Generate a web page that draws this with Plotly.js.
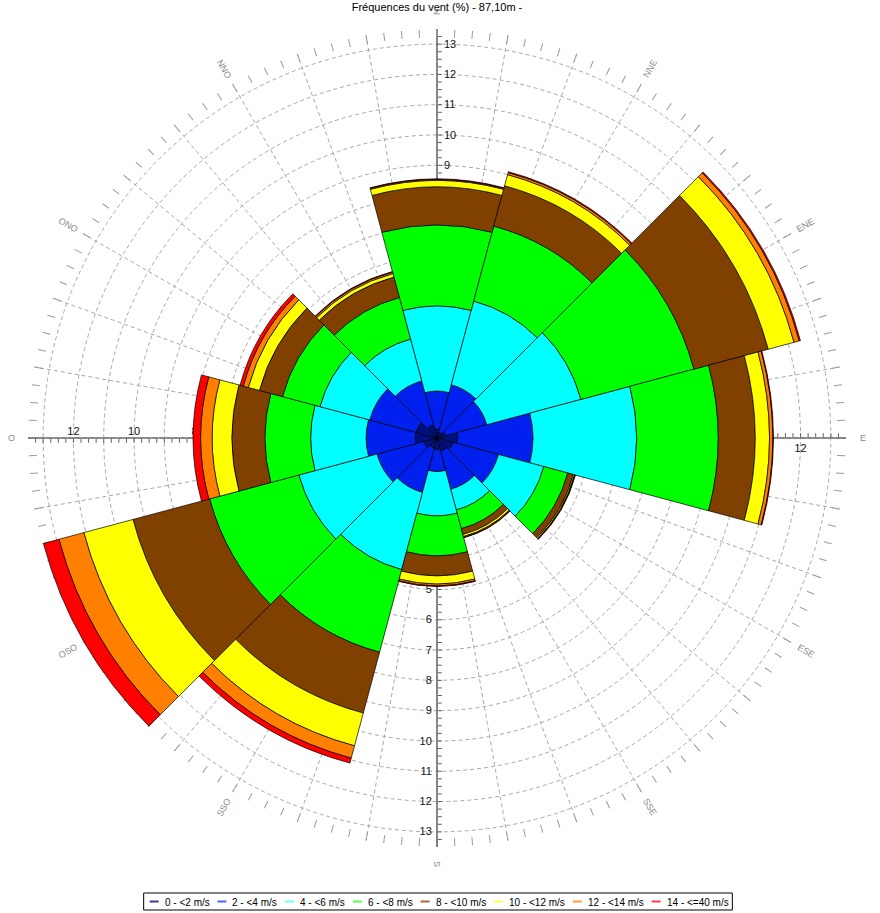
<!DOCTYPE html>
<html>
<head>
<meta charset="utf-8">
<script src="https://cdn.plot.ly/plotly-3.0.1.min.js"></script>
<style>
html,body{margin:0;padding:0;background:#ffffff;}
#chart{width:880px;height:913px;}
</style>
</head>
<body>
<div id="chart"></div>
<script>
// ---- data (frequencies in %, per direction sector) ----
const directions = ['N','NNE','ENE','E','ESE','SSE','S','SSO','OSO','O','ONO','NNO'];
const directionAngles = [0,30,60,90,120,150,180,210,240,270,300,330];
const speedClasses = ['0 - <2 m/s','2 - <4 m/s','4 - <6 m/s','6 - <8 m/s','8 - <10 m/s','10 - <12 m/s','12 - <14 m/s','14 - <=40 m/s'];
const speedColors = ['#001080','#0020F0','#00FFFF','#00FF00','#804000','#FFFF00','#FF8000','#FF0000'];
const legendColors = ['#3c3c96','#4a64f4','#66ffff','#55ff55','#a06a3a','#ffff55','#ffa040','#ff4040'];

const freq_0_2   = [0.30,0.20,0.30,0.68,0.55,0.45,0.38,0.35,0.45,0.72,0.72,0.45];
const freq_2_4   = [1.25,1.62,1.40,2.49,1.55,1.30,0.73,1.51,1.60,1.62,1.58,1.50];
const freq_4_6   = [2.81,2.86,3.22,3.42,1.55,0.71,1.46,2.64,2.67,1.83,1.70,1.43];
const freq_6_8   = [2.67,2.56,3.86,2.69,0.82,0.64,1.32,2.82,3.05,1.51,1.28,1.42];
const freq_8_10  = [1.26,1.38,2.54,1.22,0.19,0.20,0.66,2.08,2.62,1.09,0.79,0.70];
const freq_10_12 = [0.21,0.38,0.88,0.47,0.04,0.07,0.27,1.12,1.68,0.65,0.38,0.12];
const freq_12_14 = [0.03,0.07,0.18,0.11,0.02,0.03,0.06,0.42,0.85,0.38,0.17,0.05];
const freq_14_40 = [0.02,0.03,0.04,0.02,0.01,0.01,0.02,0.17,0.53,0.25,0.11,0.02];
const seriesValues = [freq_0_2,freq_2_4,freq_4_6,freq_6_8,freq_8_10,freq_10_12,freq_12_14,freq_14_40];

const titleText = 'Fréquences du vent (%) - 87,10m -';
const radialMax = 13.5;

// ---- geometry of the plot area ----
const W = 880, H = 913, cx = 437, cy = 438, R = 409;
const dom = {x:[(cx-R)/W,(cx+R)/W], y:[(H-cy-R)/H,(H-cy+R)/H]};
const FONT = 'Liberation Sans, Arial, sans-serif';
const px2x = p => p/W, px2y = p => (H-p)/H;

// radial tick positions (every 0.25) and labels
const rTickVals = [], rTextAll = [], rTextEven = [];
for (let k = 1; k <= 53; k++) {
  const v = k*0.25;
  rTickVals.push(v);
  const isInt = (k % 4 === 0);
  rTextAll.push(isInt ? String(v) : '');
  rTextEven.push(isInt && (v % 2 === 0) ? String(v) : '');
}

const traces = [];
['polar','polar2','polar3','polar4','polar5'].forEach(p => {
  traces.push({type:'scatterpolar', r:[], theta:[], subplot:p, showlegend:false, hoverinfo:'skip', mode:'markers'});
});
seriesValues.forEach((vals,i) => {
  traces.push({
    type:'barpolar', subplot:'polar6', name:speedClasses[i],
    r:vals, theta:directionAngles, width:30,
    marker:{color:speedColors[i], line:{color:'#000000', width:0.7}},
    showlegend:false
  });
});

function axisPolar(angle, tickangle, texts, ticksSide) {
  return {
    domain: dom, bgcolor:'rgba(0,0,0,0)',
    angularaxis:{visible:false, rotation:90, direction:'clockwise'},
    radialaxis:{visible:true, range:[0,radialMax], angle:angle, tickangle:tickangle,
      tickmode:'array', tickvals:rTickVals, ticktext:texts,
      ticks:ticksSide, ticklen:4, tickwidth:1, tickcolor:'#606060',
      showline:true, linecolor:'#6e6e6e', linewidth:1.6, showgrid:false,
      tickfont:{family:FONT, size:11, color:'#111111'}}
  };
}

const polar2 = axisPolar(90, 90, rTextAll, 'outside');
polar2.angularaxis = {visible:true, rotation:90, direction:'clockwise', tickmode:'linear', tick0:0, dtick:2.5,
  ticks:'inside', ticklen:8, tickwidth:1, tickcolor:'#9a9a9a', showgrid:false, showline:false, showticklabels:false};

// direction labels around the rose
const annotations = directions.map((d,i) => {
  const a = directionAngles[i], th = a*Math.PI/180, LR = 426;
  const px = cx + LR*Math.sin(th), py = cy - LR*Math.cos(th);
  return {text:d, x:px2x(px), y:px2y(py), xref:'paper', yref:'paper', showarrow:false,
    xanchor:'center', yanchor:'middle', textangle:(a<=180 ? a-90 : a-270),
    font:{family:FONT, size:9, color:'#8a8a8a'}};
});

// legend box drawn like the original (short line + label)
const shapes = [];
const ctx = document.createElement('canvas').getContext('2d');
ctx.font = '10px "Liberation Sans", Arial, sans-serif';
const lineLen = 9, lineGap = 4, entryGap = 10, pad = 6;
const textW = speedClasses.map(s => ctx.measureText(s).width);
const totalW = pad*2 + textW.reduce((s,w)=>s+w+lineLen+lineGap,0) + entryGap*(speedClasses.length-1);
const boxL = cx + 1 - totalW/2, boxT = 893, boxB = 910, midY = (boxT+boxB)/2;
shapes.push({type:'rect', xref:'paper', yref:'paper', x0:px2x(boxL), x1:px2x(boxL+totalW), y0:px2y(boxB), y1:px2y(boxT),
  line:{color:'#000000', width:1}, fillcolor:'#ffffff', layer:'above'});
let xpos = boxL + pad;
speedClasses.forEach((name,i) => {
  shapes.push({type:'line', xref:'paper', yref:'paper', x0:px2x(xpos), x1:px2x(xpos+lineLen), y0:px2y(midY), y1:px2y(midY),
    line:{color:legendColors[i], width:2}, layer:'above'});
  annotations.push({text:name, x:px2x(xpos+lineLen+lineGap), y:px2y(midY+0.5), xref:'paper', yref:'paper',
    showarrow:false, xanchor:'left', yanchor:'middle', font:{family:FONT, size:10, color:'#000000'}});
  xpos += lineLen + lineGap + textW[i] + entryGap;
});

const layout = {
  width:W, height:H, margin:{l:0,r:0,t:0,b:0}, paper_bgcolor:'#ffffff',
  title:{text:titleText, x:cx/W, xanchor:'center', y:1-7/H, yanchor:'middle', yref:'container',
    font:{family:FONT, size:11, color:'#000000'}},
  showlegend:false,
  polar:{
    domain:dom, bgcolor:'#ffffff',
    angularaxis:{visible:true, rotation:90, direction:'clockwise', tickmode:'linear', tick0:0, dtick:10,
      showgrid:true, gridcolor:'#a8a8a8', griddash:'4px,3px', gridwidth:1, showline:false, showticklabels:false, ticks:''},
    radialaxis:{visible:true, range:[0,radialMax], tickmode:'linear', tick0:0, dtick:1,
      showgrid:true, gridcolor:'#a8a8a8', griddash:'4px,3px', gridwidth:1, showline:false, showticklabels:false, ticks:''}
  },
  polar2: polar2,
  polar3: axisPolar(270, -90, rTextAll, 'inside'),
  polar4: axisPolar(180, 180, rTextEven, 'inside'),
  polar5: axisPolar(0, 0, rTextEven, 'inside'),
  polar6:{
    domain:dom, bgcolor:'rgba(0,0,0,0)', barmode:'stack', bargap:0,
    angularaxis:{visible:false, rotation:90, direction:'clockwise'},
    radialaxis:{visible:false, range:[0,radialMax]}
  },
  annotations: annotations,
  shapes: shapes
};

Plotly.newPlot('chart', traces, layout, {displayModeBar:false, staticPlot:true});
</script>
</body>
</html>
